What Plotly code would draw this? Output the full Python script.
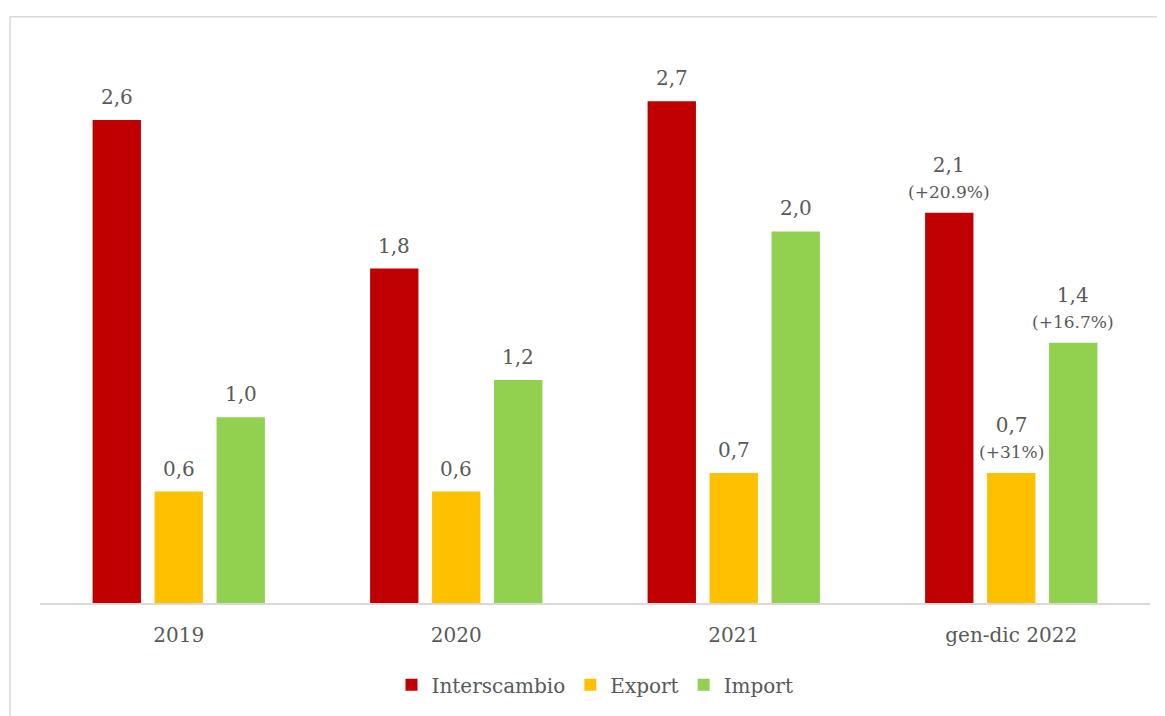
import plotly.graph_objects as go

categories = ["2019", "2020", "2021", "gen-dic 2022"]
interscambio = [2.6, 1.8, 2.7, 2.1]
export = [0.6, 0.6, 0.7, 0.7]
importv = [1.0, 1.2, 2.0, 1.4]
var_2022 = {"Interscambio": "+20.9%", "Export": "+31%", "Import": "+16.7%"}

series = [("Interscambio", interscambio, "#C00000"),
          ("Export", export, "#FFC000"),
          ("Import", importv, "#92D050")]

FONT = "DejaVu Serif"
GREY = "#595959"
BARGAP = 0.33

def fmt(v):
    return f"{v:.1f}".replace(".", ",")

fig = go.Figure()
annotations = []
for j, (name, vals, col) in enumerate(series):
    fig.add_trace(go.Bar(
        x=categories, y=vals, name=name, marker_color=col,
        marker_line_width=0, hoverinfo="skip"))
    off = (j - 1) * (1 - BARGAP) / 3
    for i, v in enumerate(vals):
        txt = fmt(v)
        if i == len(vals) - 1:
            txt += f"<br><span style='font-size:17px'>({var_2022[name]})</span>"
        annotations.append(dict(
            x=i + off, y=v, xref="x", yref="y", text=txt, showarrow=False,
            yanchor="bottom", xanchor="center", yshift=9,
            font=dict(family=FONT, size=20, color=GREY)))

fig.update_layout(
    width=1157, height=708,
    paper_bgcolor="white", plot_bgcolor="white",
    margin=dict(l=32, r=15, t=19, b=111),
    barmode="group", bargap=BARGAP, bargroupgap=0.22,
    font=dict(family=FONT, color=GREY, size=20),
    showlegend=True,
    legend=dict(orientation="h", x=0.5, xanchor="center", y=-0.108, yanchor="top",
                font=dict(family=FONT, size=20, color=GREY),
                itemwidth=30, traceorder="normal"),
    xaxis=dict(showline=True, linecolor="#D9D9D9", linewidth=1.5,
               ticks="", ticklabelstandoff=13,
               tickfont=dict(family=FONT, size=20, color=GREY),
               showgrid=False),
    yaxis=dict(range=[0, 3.1], visible=False, showgrid=False, zeroline=False),
    annotations=annotations,
    shapes=[dict(type="rect", xref="paper", yref="paper",
                 x0=-0.027, x1=1.03, y0=-0.3, y1=1.018,
                 line=dict(color="#D9D9D9", width=1.5), fillcolor="rgba(0,0,0,0)",
                 layer="below")],
)

fig.write_html("out.html")
